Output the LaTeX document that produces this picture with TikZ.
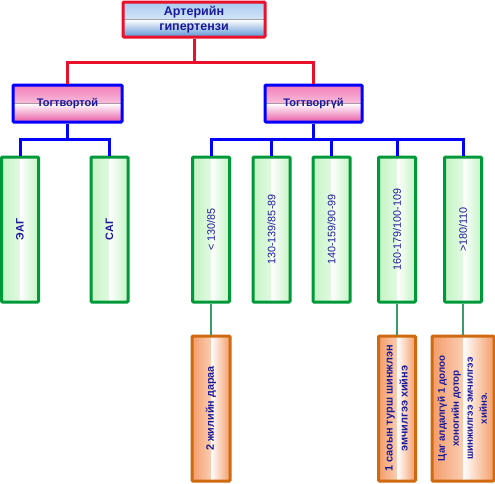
\documentclass[tikz,border=0pt]{standalone}
\usepackage{fontspec}
\setmainfont{Liberation Sans}
\definecolor{navytext}{HTML}{1A1A99}
\definecolor{rootred}{HTML}{E8102A}
\definecolor{linkblue}{HTML}{0000FF}
\definecolor{boxgreen}{HTML}{00993A}
\definecolor{boxorange}{HTML}{D06A10}
\definecolor{linkteal}{HTML}{3A9A6A}
\definecolor{rootlight}{HTML}{A8CCF0}
\definecolor{rootdark}{HTML}{5C94D4}
\definecolor{pinklight}{HTML}{F27CB8}
\definecolor{pinkdark}{HTML}{E85CA4}
\definecolor{greenlight}{HTML}{C4F4C4}
\definecolor{orangelight}{HTML}{F49C68}
\tikzset{
  tb shade/.style 2 args={path picture={
    \fill[top color=#1, bottom color=white] (path picture bounding box.west) rectangle (path picture bounding box.north east);
    \fill[top color=white, bottom color=#2] (path picture bounding box.south west) rectangle (path picture bounding box.east);}},
  lr shade/.style={path picture={
    \fill[left color=#1, right color=white] (path picture bounding box.south west) rectangle (path picture bounding box.north);
    \fill[left color=white, right color=#1] (path picture bounding box.south) rectangle (path picture bounding box.north east);}},
  rootbox/.style={draw=rootred, line width=3pt, rounded corners=1pt,
    tb shade={rootlight}{rootdark},
    minimum width=142pt, minimum height=35pt, align=center,
    font=\fontsize{12.5}{14.5}\selectfont\bfseries, text=navytext},
  kindbox/.style={draw=linkblue, line width=3pt, rounded corners=1pt,
    tb shade={pinklight}{pinkdark},
    minimum height=37pt, font=\fontsize{11}{13}\selectfont\bfseries, text=navytext},
  gradebox/.style={draw=boxgreen, line width=3pt, rounded corners=1pt,
    lr shade=greenlight, inner sep=0pt,
    minimum width=37pt, minimum height=145pt,
    font=\fontsize{10.8}{13}\selectfont, text=navytext},
  actbox/.style={draw=boxorange, line width=3pt, rounded corners=1pt,
    lr shade=orangelight, inner sep=0pt,
    minimum height=145pt, font=\bfseries, text=navytext},
  redlink/.style={draw=rootred, line width=3pt},
  bluelink/.style={draw=linkblue, line width=3pt},
  teallink/.style={draw=linkteal, line width=2pt},
}
\newcommand{\upright}[1]{\rotatebox{90}{#1}}
\newcommand{\uplines}[1]{\rotatebox{90}{\begin{tabular}{@{}c@{}}#1\end{tabular}}}
\begin{document}
\begin{tikzpicture}[x=1pt, y=-1pt]
  \useasboundingbox (0,0) rectangle (495,483);
  % top
  \node[rootbox] (root) at (194,19.5) {Артерийн\\гипертензи};
  % two kinds
  \node[kindbox, minimum width=109pt] (stable) at (67.5,103.5) {Тогтвортой};
  \node[kindbox, minimum width=97pt] (unstable) at (313.5,103.5) {Тогтворгүй};
  % green columns
  \node[gradebox] (eag) at (20,229.5) {\upright{\bfseries ЭАГ}};
  \node[gradebox] (sag) at (109.5,229.5) {\upright{\bfseries САГ}};
  \node[gradebox] (g1) at (211,229.5) {\upright{< 130/85}};
  \node[gradebox] (g2) at (271.5,229.5) {\upright{130-139/85-89}};
  \node[gradebox] (g3) at (331.5,229.5) {\upright{140-159/90-99}};
  \node[gradebox] (g4) at (397,229.5) {\upright{160-179/100-109}};
  \node[gradebox] (g5) at (463,229.5) {\upright{>180/110}};
  % orange columns
  \node[actbox, minimum width=38pt, font=\fontsize{10.8}{13}\selectfont\bfseries] (a1) at (211,408.5) {\upright{2 жилийн дараа}};
  \node[actbox, minimum width=37pt, font=\fontsize{10.9}{15}\selectfont\bfseries] (a4) at (397,408.5) {\uplines{1 саоын турш шинжлэн\\эмчилгээ хийнэ}};
  \node[actbox, minimum width=62pt, font=\fontsize{9.8}{14}\selectfont\bfseries] (a5) at (463,408.5) {\uplines{Цаг алдалгүй 1 долоо\\хоногийн дотор\\шинжилгээ эмчилгээ\\хийнэ.}};
  % links
  \coordinate (rj) at (194,62);
  \draw[redlink] (root.south) -- (rj);
  \draw[redlink] (rj) -| (stable.north);
  \draw[redlink] (rj) -| (unstable.north);
  \coordinate (sj) at (67.5,139);
  \coordinate (uj) at (313.5,139);
  \draw[bluelink] (stable.south) -- (sj);
  \draw[bluelink] (unstable.south) -- (uj);
  \foreach \g in {eag,sag}
    \draw[bluelink] (sj) -| (\g.north);
  \foreach \g in {g1,g2,g3,g4,g5}
    \draw[bluelink] (uj) -| (\g.north);
  \draw[teallink] (g1.south) -- (a1.north);
  \draw[teallink] (g4.south) -- (a4.north);
  \draw[teallink] (g5.south) -- (a5.north);
\end{tikzpicture}
\end{document}
